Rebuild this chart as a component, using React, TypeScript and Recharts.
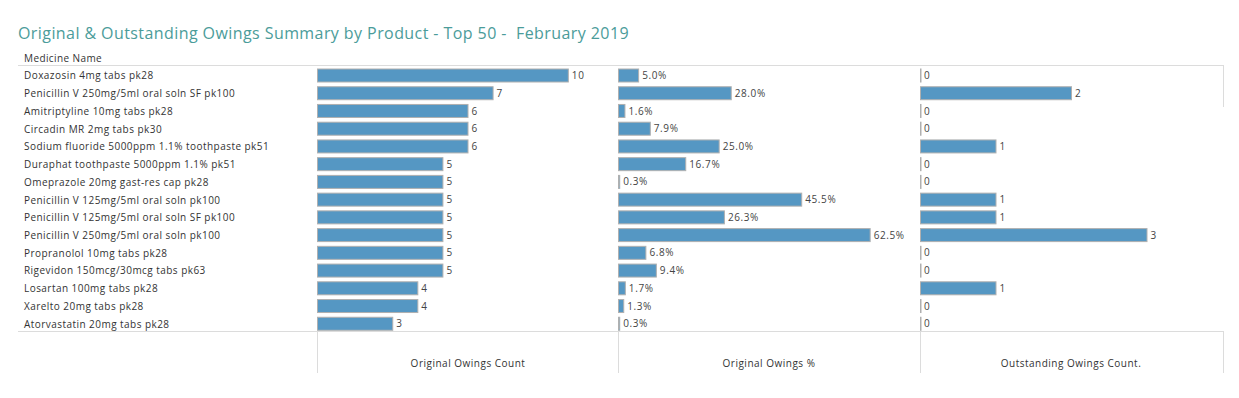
import { BarChart, Bar, XAxis, YAxis, LabelList } from "recharts"

const medicines = [
  "Doxazosin 4mg tabs pk28",
  "Penicillin V 250mg/5ml oral soln SF pk100",
  "Amitriptyline 10mg tabs pk28",
  "Circadin MR 2mg tabs pk30",
  "Sodium fluoride 5000ppm 1.1% toothpaste pk51",
  "Duraphat toothpaste 5000ppm 1.1% pk51",
  "Omeprazole 20mg gast-res cap pk28",
  "Penicillin V 125mg/5ml oral soln pk100",
  "Penicillin V 125mg/5ml oral soln SF pk100",
  "Penicillin V 250mg/5ml oral soln pk100",
  "Propranolol 10mg tabs pk28",
  "Rigevidon 150mcg/30mcg tabs pk63",
  "Losartan 100mg tabs pk28",
  "Xarelto 20mg tabs pk28",
  "Atorvastatin 20mg tabs pk28",
]
const originalCount = [10, 7, 6, 6, 6, 5, 5, 5, 5, 5, 5, 5, 4, 4, 3]
const originalPct = [5.0, 28.0, 1.6, 7.9, 25.0, 16.7, 0.3, 45.5, 26.3, 62.5, 6.8, 9.4, 1.7, 1.3, 0.3]
const outstandingCount = [0, 2, 0, 0, 1, 0, 0, 1, 1, 3, 0, 0, 1, 0, 0]

const columnTitles = ["Original Owings Count", "Original Owings %", "Outstanding Owings Count."]

const data = medicines.map((name, i) => ({
  name,
  count: originalCount[i],
  pct: originalPct[i],
  outstanding: outstandingCount[i],
}))

const FONT = "'Open Sans', sans-serif"
const BAR = "#5597c3"
const LINE = "#dcdcdc"

function BarShape(props: any) {
  const { x, y, width, height } = props
  const w = Math.max(width || 0, 0.5)
  return <rect x={x + 0.5} y={y} width={w} height={height} fill={BAR} stroke="#b0b0b0" strokeWidth={1} />
}

function NameTick(props: any) {
  const { y, payload } = props
  return (
    <text x={6} y={y} dy={3.5} textAnchor="start" fontSize={10} fill="#333" letterSpacing={0.45} fontFamily={FONT}>
      {payload.value}
    </text>
  )
}

const chartH = 266
const top = 67

function Column({ left, width, dataKey, domain, fmt, withNames }: any) {
  return (
    <div style={{ position: "absolute", left, top, width, height: chartH }}>
      <BarChart
        width={width}
        height={chartH}
        data={data}
        layout="vertical"
        margin={{ top: 0, right: 0, bottom: 0, left: 0 }}
        barSize={13}
      >
        <XAxis type="number" domain={domain} hide />
        <YAxis
          type="category"
          dataKey="name"
          width={withNames ? 299 : 0}
          hide={!withNames}
          axisLine={false}
          tickLine={false}
          tick={<NameTick />}
          interval={0}
        />
        <Bar dataKey={dataKey} shape={<BarShape />} isAnimationActive={false}>
          <LabelList
            dataKey={dataKey}
            position="right"
            offset={4}
            formatter={fmt}
            style={{ fontSize: 10, fill: "#444", fontFamily: FONT, letterSpacing: 0.6 }}
          />
        </Bar>
      </BarChart>
    </div>
  )
}

export default function App() {
  const line = (l: number, t: number, w: number, h: number) => (
    <div style={{ position: "absolute", left: l, top: t, width: w, height: h, background: LINE }} />
  )
  const colLefts = [317, 618, 920]
  return (
    <div style={{ position: "absolute", left: 0, top: 0, width: 1239, height: 398, background: "#fff", fontFamily: FONT }}>
      <div style={{ position: "absolute", left: 18, top: 22, fontSize: 16, color: "#4b9c9a", letterSpacing: 0.42, whiteSpace: "pre" }}>
        Original &amp; Outstanding Owings Summary by Product - Top 50 -  February 2019
      </div>
      <div style={{ position: "absolute", left: 24, top: 51, fontSize: 10, color: "#333", letterSpacing: 0.4 }}>Medicine Name</div>
      {line(18, 65, 1206, 1)}
      {line(1223, 65, 1, 42)}
      {line(18, 331, 1206, 1)}
      {colLefts.concat([1223]).map((x) => line(x, 331, 1, 42))}
      <Column left={18} width={600} dataKey="count" domain={[0, 12]} fmt={(v: number) => `${v}`} withNames />
      <Column left={618} width={302} dataKey="pct" domain={[0, 75]} fmt={(v: number) => `${v.toFixed(1)}%`} />
      <Column left={920} width={302} dataKey="outstanding" domain={[0, 4]} fmt={(v: number) => `${v}`} />
      {columnTitles.map((t, i) => (
        <div
          key={t}
          style={{ position: "absolute", left: colLefts[i], top: 356, width: 302, textAlign: "center", fontSize: 10, color: "#333", letterSpacing: 0.5 }}
        >
          {t}
        </div>
      ))}
    </div>
  )
}
